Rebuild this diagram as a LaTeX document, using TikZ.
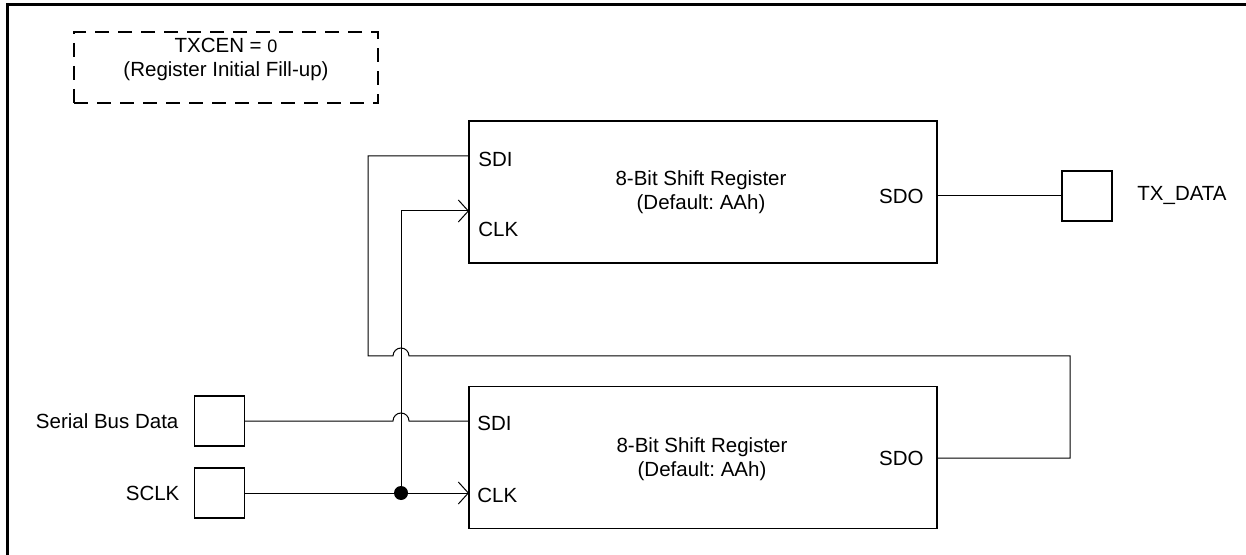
\documentclass[tikz,border=0pt]{standalone}
\usepackage{fontspec}
\setmainfont{Liberation Sans}
\usetikzlibrary{arrows.meta,positioning}
\frenchspacing
\tikzset{
    regbox/.style={draw, line width=0.8pt, minimum width=234pt, minimum height=71pt, inner sep=0pt},
    iobox/.style={draw, line width=0.7pt, minimum size=25pt, inner sep=0pt},
    notebox/.style={draw, line width=1.1pt, dash pattern=on 7pt off 4.5pt, minimum width=152pt, minimum height=35.5pt, inner sep=0pt},
    lbl/.style={inner sep=0pt},
    wire/.style={line width=0.5pt},
    clkarrow/.style={-{Straight Barb[length=5pt,width=11pt]}},
    dot/.style={circle, fill, inner sep=0pt, minimum size=7pt},
}
\begin{document}
\begin{tikzpicture}[x=0.5pt, y=-0.5pt, every node/.append style={font=\fontsize{10.25}{12}\selectfont}]
    \useasboundingbox (0,0) rectangle (1246,555);
    \draw[line width=1.5pt] (1246,5) -- (7,5) -- (7,555);

    \node[notebox] (note) at (226,67.5) {};
    \node[lbl, align=center, anchor=north] (notetxt) at (226,38) {TXCEN = {\fontsize{9}{12}\selectfont 0}\\(Register Initial Fill-up)};

    \node[regbox] (regA) at (703,192) {};
    \node[regbox] (regB) at (703,457.5) {};
    \node[lbl, align=center] (regAtxt) at (701,192) {8-Bit Shift Register\\(Default: AAh)};
    \node[lbl, align=center] (regBtxt) at (702,459) {8-Bit Shift Register\\(Default: AAh)};

    \coordinate (regA-sdi) at (469,156);
    \coordinate (regA-clk) at (469,211);
    \coordinate (regA-sdo) at (937,196);
    \coordinate (regB-sdi) at (469,421);
    \coordinate (regB-clk) at (469,493);
    \coordinate (regB-sdo) at (937,458);

    \node[lbl, anchor=west] (regA-sdil) at (478,159) {SDI};
    \node[lbl, anchor=west] (regA-clkl) at (478,229) {CLK};
    \node[lbl, anchor=east] (regA-sdol) at (924,196) {SDO};
    \node[lbl, anchor=west] (regB-sdil) at (477,423) {SDI};
    \node[lbl, anchor=west] (regB-clkl) at (477,495) {CLK};
    \node[lbl, anchor=east] (regB-sdol) at (924,458) {SDO};

    \node[iobox] (sbd) at (219.5,421) {};
    \node[iobox] (sclk) at (219.5,493) {};
    \node[iobox] (txd) at (1087,196) {};
    \node[lbl, left=7.5pt of sbd] (sbdl) {Serial Bus Data};
    \node[lbl, left=7pt of sclk] (sclkl) {SCLK};
    \node[lbl, anchor=base west] (txdl) at (1137,201) {TX\_DATA};

    \coordinate (hopA) at (401,356);
    \coordinate (hopB) at (401,421);
    \coordinate (loopR) at (1070,356);
    \coordinate (loopL) at (368,356);
    \node[dot] (jn) at (401,493) {};

    \draw[wire] (regA-sdo) -- (txd);
    \draw[wire] (regB-sdo) -| (loopR) -- ([xshift=4pt]hopA) arc[start angle=0, end angle=180, radius=4pt] -- (loopL) |- (regA-sdi);
    \draw[wire] (sbd) -- ([xshift=-4pt]hopB) arc[start angle=180, end angle=0, radius=4pt] -- (regB-sdi);
    \draw[wire, clkarrow] (sclk) -- (regB-clk);
    \draw[wire, clkarrow] (jn) |- (regA-clk);
\end{tikzpicture}
\end{document}
